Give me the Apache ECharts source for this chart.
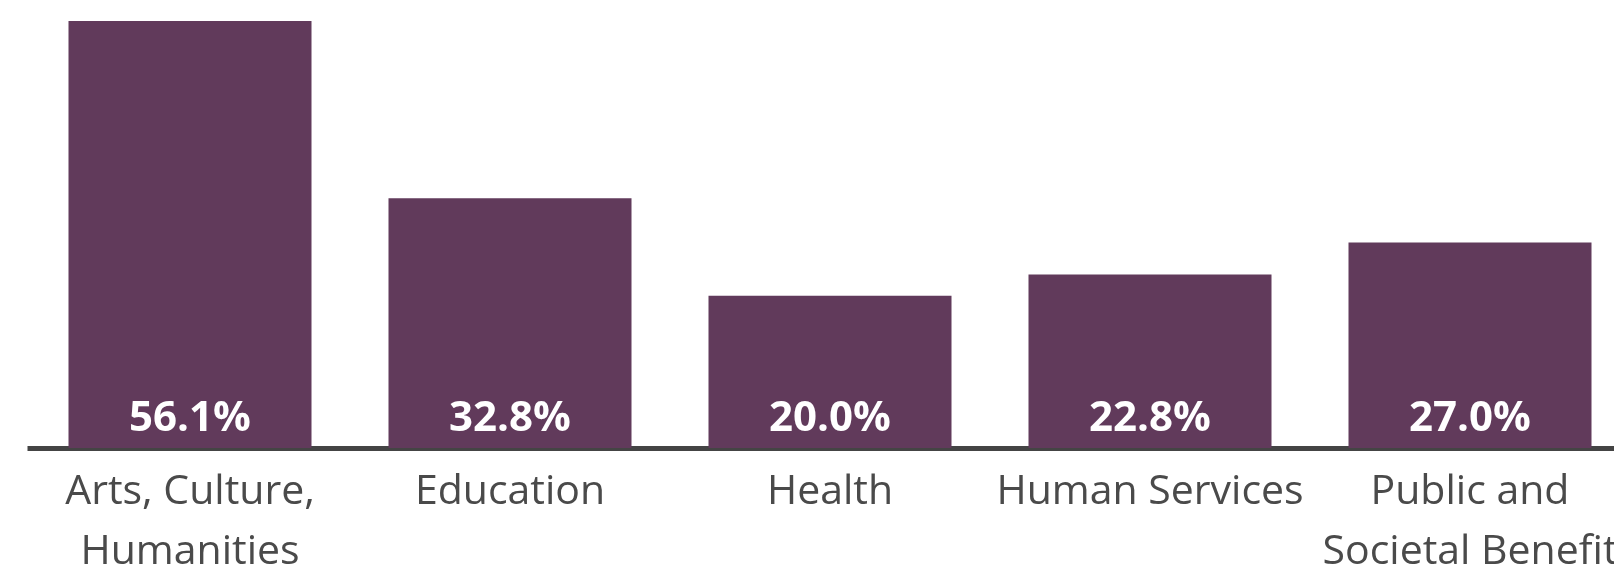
<!DOCTYPE html>
<html>
<head>
<meta charset="utf-8">
<script src="https://cdn.jsdelivr.net/npm/echarts@6/dist/echarts.min.js"></script>
<style>
html,body{margin:0;padding:0;background:#fff;}
#myChart{width:1614px;height:567px;}
</style>
</head>
<body>
<div id="myChart"></div>
<script type="text/javascript">
// chart data
var categories = ['Arts, Culture,\nHumanities', 'Education', 'Health', 'Human Services', 'Public and\nSocietal Benefit'];
var shares = [56.1, 32.8, 20.0, 22.8, 27.0];

var option = {
	animation: false,
	grid:
	{
		left: 30,
		right: -16,
		top: 21,
		bottom: 119,
		outerBoundsMode: 'none'
	},
	xAxis:
	{
		type: 'category',
		data: categories,
		offset: 2.5,
		axisLine: {lineStyle: {color: '#444444', width: 5, cap: 'square'}},
		axisTick: {show: false},
		axisLabel:
		{
			interval: 0,
			margin: 12,
			color: '#4a4a4a',
			fontFamily: 'Open Sans',
			fontSize: 41,
			lineHeight: 60
		}
	},
	yAxis:
	{
		type: 'value',
		min: 0,
		max: 'dataMax',
		show: false
	},
	series:
	[
		{
			type: 'bar',
			data: shares,
			barWidth: 243,
			itemStyle: {color: '#613a5b'},
			label:
			{
				show: true,
				position: 'insideBottom',
				distance: 8,
				color: '#ffffff',
				fontFamily: 'Open Sans',
				fontWeight: 'bold',
				fontSize: 42,
				formatter: function (p) { return p.value.toFixed(1) + '%'; }
			}
		}
	]
};
echarts.init(document.getElementById('myChart')).setOption(option);
</script>
</body>
</html>
